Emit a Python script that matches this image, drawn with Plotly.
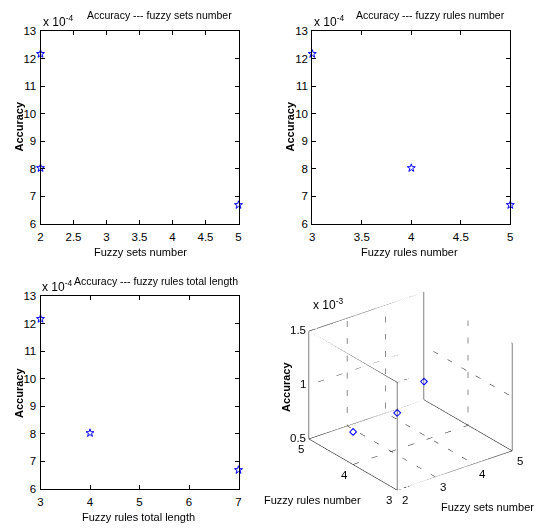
import plotly.graph_objects as go
import math

# ---------------- data ----------------
fuzzy_sets = [2, 2, 5]
fuzzy_rules = [3, 4, 5]
rules_total_length = [3, 4, 7]
accuracy = [12.17e-4, 8.03e-4, 6.69e-4]

y2d_tickvals = [6e-4, 7e-4, 8e-4, 9e-4, 10e-4, 11e-4, 12e-4, 13e-4]
y2d_ticktext = ["6", "7", "8", "9", "10", "11", "12", "13"]
x1_ticks = [2, 2.5, 3, 3.5, 4, 4.5, 5]
x1_text = ["2", "2.5", "3", "3.5", "4", "4.5", "5"]
x2_ticks = [3, 3.5, 4, 4.5, 5]
x2_text = ["3", "3.5", "4", "4.5", "5"]
x3_ticks = [3, 4, 5, 6, 7]
x3_text = ["3", "4", "5", "6", "7"]

z3d_ticks = [0.5e-3, 1e-3, 1.5e-3]
z3d_text = ["0.5", "1", "1.5"]
x3d_ticks = [2, 3, 4, 5]
y3d_ticks = [3, 4, 5]

FONT = "Liberation Sans, Arial, sans-serif"
FS_TICK = 11.5
FS = 11
BLUE = "#0000ff"

fig = go.Figure()

marker = dict(symbol="star-open", size=6, color=BLUE, line=dict(color=BLUE, width=1))

fig.add_trace(go.Scatter(x=fuzzy_sets, y=accuracy, mode="markers", marker=marker,
                         xaxis="x", yaxis="y", cliponaxis=False, showlegend=False))
fig.add_trace(go.Scatter(x=fuzzy_rules, y=accuracy, mode="markers", marker=marker,
                         xaxis="x2", yaxis="y2", cliponaxis=False, showlegend=False))
fig.add_trace(go.Scatter(x=rules_total_length, y=accuracy, mode="markers", marker=marker,
                         xaxis="x3", yaxis="y3", cliponaxis=False, showlegend=False))

# ---------------- 3D ----------------
xr = [min(x3d_ticks), max(x3d_ticks)]
yr = [min(y3d_ticks), max(y3d_ticks)]
zr = [min(z3d_ticks), max(z3d_ticks)]

ex, ey, ez = [], [], []
def seg(p, q, X, Y, Z):
    X += [p[0], q[0], None]
    Y += [p[1], q[1], None]
    Z += [p[2], q[2], None]
for y in yr:
    for z in zr:
        seg((xr[0], y, z), (xr[1], y, z), ex, ey, ez)
for x in xr:
    for z in zr:
        seg((x, yr[0], z), (x, yr[1], z), ex, ey, ez)
for x in xr:
    for y in yr:
        seg((x, y, zr[0]), (x, y, zr[1]), ex, ey, ez)

gx, gy, gz = [], [], []
for x in x3d_ticks[1:-1]:
    seg((x, yr[0], zr[0]), (x, yr[1], zr[0]), gx, gy, gz)
    seg((x, yr[1], zr[0]), (x, yr[1], zr[1]), gx, gy, gz)
for y in y3d_ticks[1:-1]:
    seg((xr[0], y, zr[0]), (xr[1], y, zr[0]), gx, gy, gz)
    seg((xr[1], y, zr[0]), (xr[1], y, zr[1]), gx, gy, gz)
for z in z3d_ticks[1:-1]:
    seg((xr[0], yr[1], z), (xr[1], yr[1], z), gx, gy, gz)
    seg((xr[1], yr[0], z), (xr[1], yr[1], z), gx, gy, gz)

fig.add_trace(go.Scatter3d(x=gx, y=gy, z=gz, mode="lines",
                           line=dict(color="#1a1a1a", width=1, dash="dash"),
                           hoverinfo="skip", showlegend=False, scene="scene"))
fig.add_trace(go.Scatter3d(x=ex, y=ey, z=ez, mode="lines",
                           line=dict(color="#000000", width=1),
                           hoverinfo="skip", showlegend=False, scene="scene"))
fig.add_trace(go.Scatter3d(x=fuzzy_sets, y=fuzzy_rules, z=accuracy, mode="markers",
                           marker=dict(symbol="diamond-open", size=2.5, color=BLUE,
                                       line=dict(color=BLUE, width=1)),
                           showlegend=False, scene="scene"))

# ---------------- layout ----------------
tickfont = dict(family=FONT, size=FS_TICK, color="black")
axcommon = dict(showline=True, linecolor="black", linewidth=1, mirror="ticks",
                ticks="inside", ticklen=4, tickcolor="black", showgrid=False,
                zeroline=False, tickfont=tickfont, fixedrange=True, automargin=False)

def xax(domain, ticks, text, anchor):
    d = dict(axcommon)
    d.update(domain=domain, range=[min(ticks), max(ticks)], tickvals=ticks,
             ticktext=text, anchor=anchor, ticklabelstandoff=2)
    return d

def yax(domain, anchor):
    d = dict(axcommon)
    d.update(domain=domain, range=[6e-4, 13e-4], tickvals=y2d_tickvals,
             ticktext=y2d_ticktext, anchor=anchor, ticklabelstandoff=1)
    return d

W, H = 537, 529
def px(x): return x / W
def py(y): return 1 - y / H

xd1 = [px(40.5), px(238.5)]
xd2 = [px(312.3), px(510.3)]
yd_top = [py(224), py(31)]
yd_bot = [py(489), py(296)]

A = math.radians(37.5)
E = math.radians(26.4)
k = 1.55
eye = dict(x=-math.sin(A) * math.cos(E) * k, y=-math.cos(A) * math.cos(E) * k,
           z=math.sin(E) * k)
S = 1.25

hidden = dict(showgrid=False, showline=False, zeroline=False, showticklabels=False,
              showbackground=False, showspikes=False, ticks="", title=dict(text=""))

scene_ann = []
for z, t in zip(z3d_ticks, z3d_text):
    scene_ann.append(dict(x=xr[0], y=yr[1], z=z, text=t, showarrow=False,
                          xanchor="right", yanchor="middle", xshift=-1, yshift=1, font=tickfont))
for y in y3d_ticks:
    scene_ann.append(dict(x=xr[0], y=y, z=zr[0], text=str(y), showarrow=False,
                          xanchor="right", yanchor="top", xshift=-3, yshift=-2, font=tickfont))
for x in x3d_ticks:
    scene_ann.append(dict(x=x, y=yr[0], z=zr[0], text=str(x), showarrow=False,
                          xanchor="left", yanchor="top", xshift=3, yshift=-2, font=tickfont))

lf = dict(family=FONT, size=FS, color="black")
tf = dict(family=FONT, size=10.5, color="black")
ef = dict(family=FONT, size=12, color="black")
bf = dict(family=FONT, size=FS, color="black", weight="bold")

def ann(x, y, text, font, **kw):
    d = dict(x=px(x), y=py(y), xref="paper", yref="paper", text=text,
             showarrow=False, font=font, xanchor="center", yanchor="middle")
    d.update(kw)
    return d

annotations = [
    ann(159, 15, "Accuracy --- fuzzy sets number", tf),
    ann(430.5, 15, "Accuracy --- fuzzy rules number", tf),
    ann(155.5, 281, "Accuracy --- fuzzy rules total length", tf),
    ann(40.5, 21, "x 10<sup>-4</sup>", ef, xanchor="left"),
    ann(312, 21, "x 10<sup>-4</sup>", ef, xanchor="left"),
    ann(40, 286, "x 10<sup>-4</sup>", ef, xanchor="left"),
    ann(311, 304, "x 10<sup>-3</sup>", ef, xanchor="left"),
    ann(18.5, 127, "Accuracy", bf, textangle=-90),
    ann(289.5, 127, "Accuracy", bf, textangle=-90),
    ann(19, 393, "Accuracy", bf, textangle=-90),
    ann(286, 387, "Accuracy", bf, textangle=-90),
    ann(140, 252, "Fuzzy sets number", lf),
    ann(409.7, 252, "Fuzzy rules number", lf),
    ann(138, 516.5, "Fuzzy rules total length", lf),
    ann(262, 500, "Fuzzy rules number", lf, xanchor="left"),
    ann(536, 507, "Fuzzy sets number", lf, xanchor="right"),
]

fig.update_layout(
    template="none",
    width=W, height=H, autosize=False,
    margin=dict(l=0, r=0, t=0, b=0, pad=0),
    paper_bgcolor="white", plot_bgcolor="white",
    font=dict(family=FONT, size=FS, color="black"),
    showlegend=False,
    xaxis=xax(xd1, x1_ticks, x1_text, "y"),
    yaxis=yax(yd_top, "x"),
    xaxis2=xax(xd2, x2_ticks, x2_text, "y2"),
    yaxis2=yax(yd_top, "x2"),
    xaxis3=xax(xd1, x3_ticks, x3_text, "y3"),
    yaxis3=yax(yd_bot, "x3"),
    scene=dict(
        domain=dict(x=[px(295), px(526)], y=[py(507), py(275)]),
        xaxis=dict(range=xr, **hidden),
        yaxis=dict(range=yr, **hidden),
        zaxis=dict(range=zr, **hidden),
        aspectmode="manual", aspectratio=dict(x=1 * S, y=1 * S, z=0.83 * S),
        camera=dict(eye=eye, up=dict(x=0, y=0, z=1), center=dict(x=0, y=0, z=0),
                    projection=dict(type="orthographic")),
        bgcolor="white",
        annotations=scene_ann,
    ),
    annotations=annotations,
)

fig.write_html("out.html", config={"displayModeBar": False},
               post_script="document.body.style.margin='0';document.body.style.padding='0';")
